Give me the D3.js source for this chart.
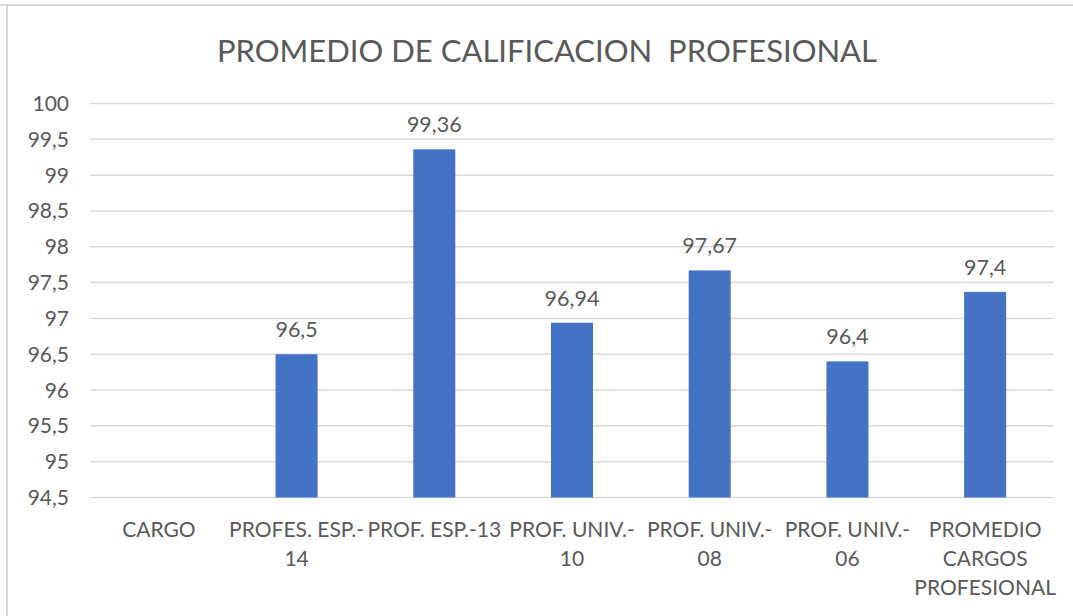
<!DOCTYPE html>
<html>
<head>
<meta charset="utf-8">
<script src="https://cdn.jsdelivr.net/npm/d3@7"></script>
<style>
   body { margin: 0; background: #fff; }
   text { font-family: Lato, "Open Sans", sans-serif; fill: #595959; }
   .title { font-size: 31px; white-space: pre; }
   .tick-label { font-size: 21px; }
   .cat-label { font-size: 21px; }
   .value-label { font-size: 21.5px; }
</style>
</head>
<body>
<div id="chart"></div>
<script>
const width = 1073;
const height = 616;

// chart data
const categories = ["CARGO", "PROFES. ESP.-\n14", "PROF. ESP.-13", "PROF. UNIV.-\n10",
                    "PROF. UNIV.-\n08", "PROF. UNIV.-\n06", "PROMEDIO\nCARGOS\nPROFESIONAL"];
const values = [null, 96.5, 99.36, 96.94, 97.67, 96.4, 97.37];
const valueLabels = ["", "96,5", "99,36", "96,94", "97,67", "96,4", "97,4"];
const yTicks = [94.5, 95, 95.5, 96, 96.5, 97, 97.5, 98, 98.5, 99, 99.5, 100];

const title = "PROMEDIO DE CALIFICACION  PROFESIONAL";

const margin = {top: 103.5, right: 19, bottom: 118.5, left: 90};

const svg = d3.select("#chart").append("svg")
   .attr("width", width)
   .attr("height", height);

// outer frame (only top and left edges show)
svg.append("line")
   .attr("x1", 0).attr("x2", width).attr("y1", 5).attr("y2", 5)
   .style("stroke", "#d9d9d9").style("stroke-width", 2);
svg.append("line")
   .attr("x1", 7).attr("x2", 7).attr("y1", 5).attr("y2", height)
   .style("stroke", "#d9d9d9").style("stroke-width", 2);

// title
svg.append("text")
   .attr("class", "title")
   .attr("x", 547)
   .attr("y", 62)
   .style("text-anchor", "middle")
   .text(title);

const x = d3.scaleBand()
   .domain(d3.range(categories.length))
   .range([margin.left, width - margin.right])
   .paddingInner(0.695)
   .paddingOuter(0.3475);

const y = d3.scaleLinear()
   .domain([94.5, 100])
   .range([height - margin.bottom, margin.top]);

// gridlines
svg.append("g")
   .selectAll("line")
   .data(yTicks)
   .join("line")
   .attr("x1", margin.left)
   .attr("x2", width - margin.right)
   .attr("y1", d => y(d))
   .attr("y2", d => y(d))
   .style("stroke", "#d9d9d9")
   .style("stroke-width", 1.5);

// y tick labels
const fmt = d3.formatLocale({decimal: ",", thousands: ".", grouping: [3], currency: ["", ""]}).format("~f");
svg.append("g")
   .selectAll("text")
   .data(yTicks)
   .join("text")
   .attr("class", "tick-label")
   .attr("x", 69)
   .attr("y", d => y(d) + 7.5)
   .style("text-anchor", "end")
   .text(d => fmt(d));

// bars
const barData = values.map((v, i) => ({i: i, value: v, label: valueLabels[i]}))
   .filter(d => d.value != null);

svg.append("g")
   .selectAll("rect")
   .data(barData)
   .join("rect")
   .attr("x", d => x(d.i))
   .attr("y", d => y(d.value))
   .attr("width", x.bandwidth())
   .attr("height", d => y(94.5) - y(d.value))
   .style("fill", "#4472c4");

// value labels
svg.append("g")
   .selectAll("text")
   .data(barData)
   .join("text")
   .attr("class", "value-label")
   .attr("x", d => x(d.i) + x.bandwidth() / 2)
   .attr("y", d => y(d.value) - 17)
   .style("text-anchor", "middle")
   .text(d => d.label);

// category labels
const cats = svg.append("g")
   .selectAll("text")
   .data(categories)
   .join("text")
   .attr("class", "cat-label")
   .attr("x", (d, i) => x(i) + x.bandwidth() / 2)
   .attr("y", 537)
   .style("text-anchor", "middle");

cats.selectAll("tspan")
   .data((d, i) => d.split("\n").map(t => ({t: t, i: i})))
   .join("tspan")
   .attr("x", d => x(d.i) + x.bandwidth() / 2)
   .attr("dy", (d, j) => j == 0 ? 0 : 29)
   .text(d => d.t);
</script>
</body>
</html>
